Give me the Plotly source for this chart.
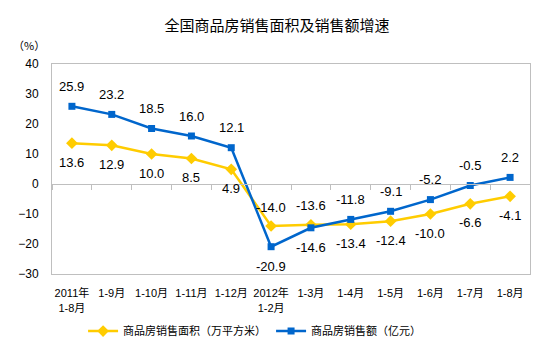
import plotly.graph_objects as go

categories = ["2011年<br>1-8月", "1-9月", "1-10月", "1-11月", "1-12月", "2012年<br>1-2月",
              "1-3月", "1-4月", "1-5月", "1-6月", "1-7月", "1-8月"]
area_growth = [13.6, 12.9, 10.0, 8.5, 4.9, -14.0, -13.6, -13.4, -12.4, -10.0, -6.6, -4.1]
sales_growth = [25.9, 23.2, 18.5, 16.0, 12.1, -20.9, -14.6, -11.8, -9.1, -5.2, -0.5, 2.2]
y_ticks = [40, 30, 20, 10, 0, -10, -20, -30]

YEL = "#FFCC00"
BLU = "#0066CC"
FONT = "Liberation Sans, Noto Sans CJK SC, sans-serif"
CJK = "Noto Sans CJK SC, sans-serif"

ymin, ymax = -30, 40

fig = go.Figure()
fig.add_trace(go.Scatter(
    x=categories, y=area_growth, name="商品房销售面积（万平方米）",
    mode="lines+markers", line=dict(color=YEL, width=2.5),
    marker=dict(symbol="diamond", size=9, color=YEL),
    xaxis="x", yaxis="y"))
fig.add_trace(go.Scatter(
    x=categories, y=sales_growth, name="商品房销售额（亿元）",
    mode="lines+markers", line=dict(color=BLU, width=2.5),
    marker=dict(symbol="square", size=7, color=BLU),
    xaxis="x2", yaxis="y"))

# data labels: sales above / area below, except where the yellow line is above
annotations = []
for i, c in enumerate(categories):
    a, s = area_growth[i], sales_growth[i]
    a_up = a > s
    annotations.append(dict(x=i, y=s, xref="x", yref="y", text=f"{s:.1f}", showarrow=False,
                            yshift=-20 if a_up else 20,
                            font=dict(family=FONT, size=13, color="#000")))
    annotations.append(dict(x=i, y=a, xref="x", yref="y", text=f"{a:.1f}", showarrow=False,
                            yshift=19 if a_up else -19,
                            font=dict(family=FONT, size=13, color="#000")))

annotations.append(dict(x=-0.085, y=1.14, xref="paper", yref="paper", text="（%）",
                        showarrow=False, xanchor="left",
                        font=dict(family=CJK, size=11, color="#000")))

fig.update_layout(
    width=554, height=352,
    margin=dict(l=52, r=24, t=64, b=78, autoexpand=False),
    paper_bgcolor="white", plot_bgcolor="white",
    title=dict(text="全国商品房销售面积及销售额增速", x=0.5, xanchor="center",
               y=0.928, yanchor="middle",
               font=dict(family=CJK, size=15, color="#000")),
    showlegend=True,
    legend=dict(orientation="h", x=0.065, xanchor="left", y=-0.272, yanchor="middle",
                font=dict(family=CJK, size=11, color="#000"),
                itemwidth=30, tracegroupgap=0),
    xaxis=dict(type="category", range=[-0.5, 11.5], showgrid=False, zeroline=False,
               showline=True, linecolor="#BFBFBF", linewidth=1, mirror=True,
               ticks="", ticklabelstandoff=9,
               tickfont=dict(family=FONT, size=11, color="#000")),
    xaxis2=dict(type="category", overlaying="x", anchor="free",
                position=(0 - ymin) / (ymax - ymin), side="bottom",
                range=[-0.5, 11.5], showgrid=False, zeroline=False,
                showline=True, linecolor="#BFBFBF", linewidth=1,
                ticks="outside", tickson="boundaries", ticklen=5, tickcolor="#BFBFBF",
                showticklabels=False),
    yaxis=dict(range=[ymin, ymax], tickvals=y_ticks, showgrid=False, zeroline=False,
               showline=True, linecolor="#BFBFBF", linewidth=1, mirror=True,
               ticks="", ticklabelstandoff=10,
               tickfont=dict(family=FONT, size=12, color="#000")),
    annotations=annotations,
)

fig.write_html("out.html")
